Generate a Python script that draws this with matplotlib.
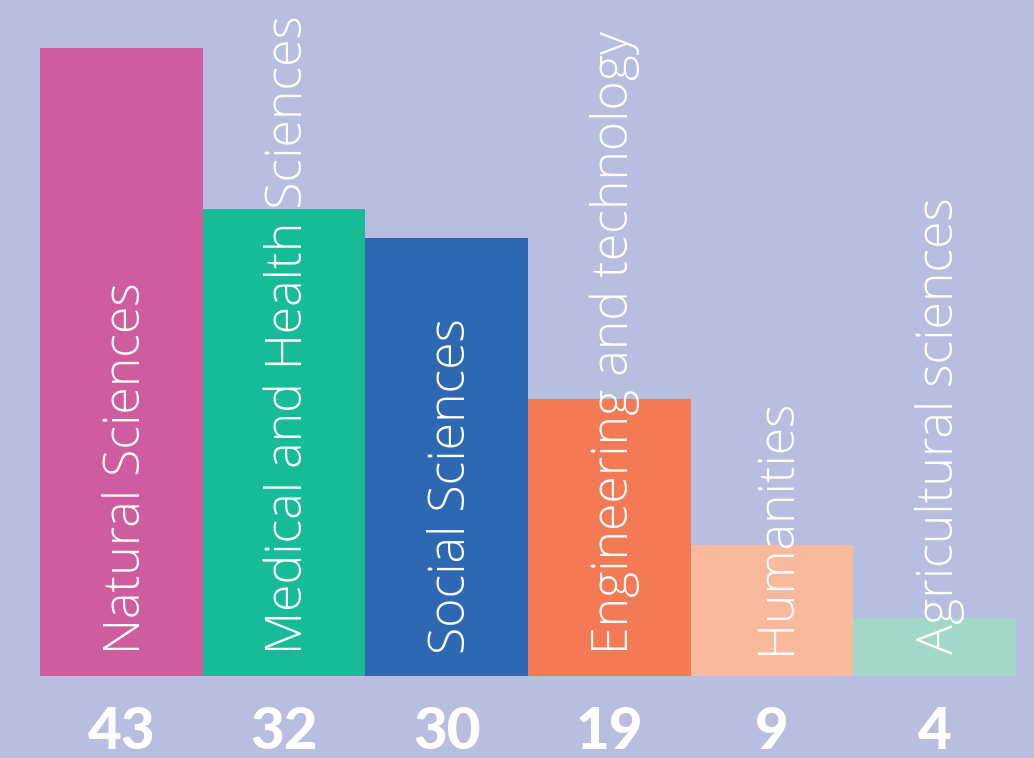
import matplotlib
matplotlib.use("Agg")
import matplotlib.pyplot as plt

categories = ["Natural Sciences", "Medical and Health Sciences", "Social Sciences",
              "Engineering and technology", "Humanities", "Agricultural sciences"]
values = [43, 32, 30, 19, 9, 4]
colors = ["#d05ca0", "#18bb98", "#2f68b2", "#f47a56", "#f9b99d", "#a3d7c8"]
bg = "#b8bee0"

W, H = 1034, 758
fig = plt.figure(figsize=(W / 100, H / 100), dpi=100, facecolor=bg)
ax = fig.add_axes([40 / W, (H - 676) / H, (1016 - 40) / W, 676 / H])
ax.set_facecolor(bg)
px_per_unit = 628 / 43
ax.set_xlim(-0.5, len(values) - 0.5)
ax.set_ylim(0, 676 / px_per_unit)
ax.axis("off")

x = range(len(values))
ax.bar(x, values, width=1.0, color=colors, linewidth=0)

unit_per_px_x = len(values) / (1016 - 40)
for i, (cat, v) in enumerate(zip(categories, values)):
    ax.text(i + 18.5 * unit_per_px_x, 22 / px_per_unit, cat, rotation=90,
            rotation_mode="anchor", ha="left", va="baseline",
            color="white", fontsize=36, family="Open Sans", fontweight="light")
    ax.text(i, -73 / px_per_unit, str(v), ha="center", va="baseline",
            color="white", fontsize=42, family="Lato", fontweight="black",
            clip_on=False)

fig.savefig("out.png", dpi=100, facecolor=bg)
